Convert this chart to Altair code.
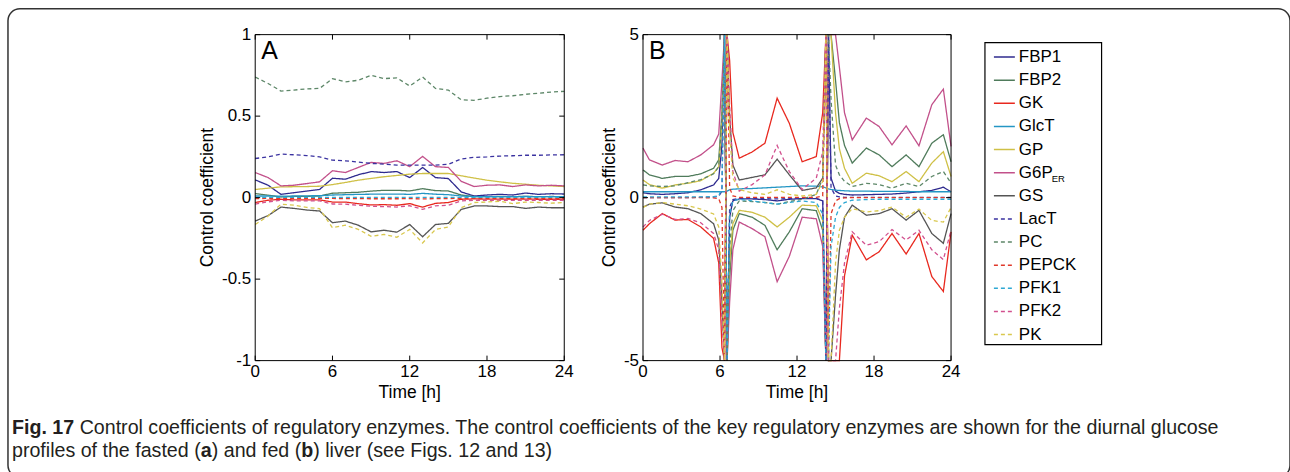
import altair as alt
import pandas as pd

# ---------------- data ----------------
SERIES = ["FBP1", "FBP2", "GK", "GlcT", "GP", "G6P_ER", "GS",
          "LacT", "PC", "PEPCK", "PFK1", "PFK2", "PK"]
COLORS = ["#2e2a8e", "#4f7b5b", "#e8281e", "#2496c4", "#cfc046", "#c2508a", "#555555",
          "#3a32a0", "#5d8768", "#e0392a", "#2ea8d3", "#d2508e", "#d9c84e"]
DASHES = [[1, 0], [1, 0], [1, 0], [1, 0], [1, 0], [1, 0], [1, 0],
          [4, 3], [4, 3], [4, 3], [4, 3], [4, 3], [4, 3]]

# Panel A (fasted), hourly
tA = [0, 1, 2, 3, 4, 5, 6, 7, 8, 9, 10, 11, 12, 13, 14, 15, 16, 17, 18, 19, 20, 21, 22, 23, 24]
A_FBP1 = [0.109, 0.076, 0.020, 0.030, 0.040, 0.050, 0.119, 0.113, 0.140, 0.160, 0.154, 0.160, 0.123,
          0.185, 0.123, 0.117, 0.035, 0.010, 0.016, 0.020, 0.016, 0.028, 0.020, 0.024, 0.022]
A_FBP2 = [0.025, 0.015, 0.004, 0.008, 0.008, 0.010, 0.027, 0.030, 0.033, 0.040, 0.045, 0.045, 0.041,
          0.055, 0.043, 0.041, 0.016, 0.006, 0.006, 0.007, 0.006, 0.008, 0.006, 0.007, 0.006]
A_GK = [-0.030, -0.016, -0.010, -0.014, -0.014, -0.014, -0.027, -0.027, -0.037, -0.045, -0.043, -0.047, -0.037,
        -0.058, -0.035, -0.030, -0.010, -0.008, -0.009, -0.009, -0.010, -0.009, -0.010, -0.010, -0.010]
A_GlcT = [0.010, 0.010, 0.009, 0.010, 0.011, 0.012, 0.016, 0.018, 0.020, 0.021, 0.021, 0.022, 0.020,
          0.026, 0.021, 0.018, 0.010, 0.006, 0.006, 0.006, 0.006, 0.007, 0.006, 0.006, 0.006]
A_GP = [0.050, 0.058, 0.066, 0.067, 0.068, 0.070, 0.080, 0.093, 0.107, 0.118, 0.128, 0.136, 0.144,
        0.148, 0.148, 0.148, 0.134, 0.120, 0.107, 0.097, 0.088, 0.082, 0.076, 0.072, 0.068]
A_G6P = [0.154, 0.123, 0.072, 0.076, 0.086, 0.097, 0.165, 0.154, 0.185, 0.216, 0.210, 0.226, 0.190,
         0.253, 0.190, 0.185, 0.100, 0.068, 0.076, 0.078, 0.068, 0.078, 0.072, 0.076, 0.072]
A_GS = [-0.144, -0.110, -0.058, -0.066, -0.076, -0.082, -0.154, -0.144, -0.169, -0.210, -0.200, -0.212, -0.165,
        -0.240, -0.165, -0.158, -0.072, -0.051, -0.051, -0.055, -0.055, -0.066, -0.058, -0.062, -0.062]
A_LacT = [0.240, 0.250, 0.267, 0.263, 0.258, 0.250, 0.230, 0.226, 0.218, 0.210, 0.206, 0.200, 0.200,
          0.200, 0.200, 0.205, 0.237, 0.247, 0.250, 0.255, 0.257, 0.260, 0.260, 0.262, 0.263]
A_PC = [0.740, 0.700, 0.654, 0.660, 0.667, 0.670, 0.730, 0.710, 0.720, 0.750, 0.730, 0.735, 0.685,
        0.740, 0.670, 0.660, 0.600, 0.597, 0.610, 0.620, 0.625, 0.634, 0.640, 0.648, 0.652]
A_PEPCK = [-0.006, -0.005, -0.004, -0.004, -0.004, -0.004, -0.005, -0.006, -0.006, -0.007, -0.007, -0.007, -0.006,
           -0.008, -0.006, -0.006, -0.004, -0.004, -0.004, -0.004, -0.004, -0.004, -0.004, -0.004, -0.004]
A_PFK1 = [0.002, 0.002, 0.002, 0.002, 0.002, 0.002, 0.002, 0.002, 0.002, 0.002, 0.002, 0.002, 0.002,
          0.002, 0.002, 0.002, 0.002, 0.002, 0.002, 0.002, 0.002, 0.002, 0.002, 0.002, 0.002]
A_PFK2 = [-0.040, -0.026, -0.016, -0.020, -0.020, -0.020, -0.039, -0.040, -0.047, -0.053, -0.055, -0.058, -0.050,
          -0.072, -0.050, -0.047, -0.020, -0.016, -0.016, -0.016, -0.017, -0.016, -0.016, -0.016, -0.016]
A_PK = [-0.165, -0.113, -0.040, -0.046, -0.060, -0.068, -0.185, -0.169, -0.195, -0.237, -0.226, -0.243, -0.195,
        -0.278, -0.195, -0.180, -0.062, -0.030, -0.027, -0.022, -0.037, -0.027, -0.030, -0.034, -0.030]

# Panel B (fed); values beyond +-5 run off the axes (clamped at the frame)
tB = [0, 0.5, 1.5, 2.5, 3.5, 4.5, 5.5, 5.9, 6.15, 6.35,
      6.55, 6.75, 7.0, 7.5, 8.5, 9.5, 10.45, 11.4, 12.4, 13.5, 14.0, 14.25,
      14.45, 14.65, 15.0, 15.3, 15.7, 16.3, 17.4, 18.4, 19.4, 20.5, 21.5, 22.5, 23.4, 24]
B_FBP1 = [0.15, 0.12, 0.10, 0.12, 0.15, 0.24, 0.39, 0.59, 1.6, 9,
          -9, -0.6, -0.1, -0.04, -0.04, -0.06, -0.10, -0.05, -0.03, -0.03, -0.1, -9,
          9, 0.6, 0.2, 0.13, 0.10, 0.08, 0.09, 0.10, 0.11, 0.14, 0.18, 0.22, 0.32, 0.18]
B_FBP2 = [0.85, 0.70, 0.59, 0.65, 0.65, 0.73, 0.90, 1.16, 2.6, 9,
          -9, -2.5, -1.0, -0.49, -0.60, -0.85, -1.60, -1.05, -0.34, -0.40, -1.0, -9,
          9, 9, 3.6, 2.3, 1.6, 1.06, 1.52, 1.31, 0.95, 1.31, 0.95, 1.67, 1.93, 1.10]
B_GK = [-1.00, -0.80, -0.49, -0.69, -0.67, -0.90, -1.25, -2.0, -4.6, -9,
        9, 4.2, 2.0, 1.21, 1.40, 1.67, 3.05, 2.28, 1.10, 1.26, 2.6, 9,
        -9, -9, -9, -5.0, -2.4, -1.15, -1.91, -1.66, -1.10, -1.73, -1.10, -2.42, -2.88, -1.05]
B_GlcT = [0.18, 0.18, 0.18, 0.18, 0.18, 0.18, 0.18, 0.18, 0.18, 0.18,
          0.20, 0.24, 0.26, 0.27, 0.28, 0.30, 0.32, 0.34, 0.36, 0.35, 0.33, 0.30,
          0.27, 0.25, 0.23, 0.22, 0.21, 0.20, 0.20, 0.19, 0.19, 0.19, 0.18, 0.18, 0.18, 0.18]
B_GP = [0.54, 0.40, 0.29, 0.39, 0.44, 0.52, 0.75, 0.95, 2.3, 9,
        -9, -2.0, -0.8, -0.39, -0.45, -0.60, -0.90, -0.60, -0.23, -0.25, -0.7, -9,
        9, 9, 2.6, 1.5, 0.9, 0.44, 0.75, 0.67, 0.49, 0.80, 0.49, 1.06, 1.41, 0.65]
B_G6P = [1.52, 1.16, 1.00, 1.14, 1.10, 1.31, 1.62, 1.95, 3.6, 9,
         -9, -3.2, -1.6, -0.75, -0.95, -1.2, -2.58, -1.8, -0.6, -0.65, -1.5, -9,
         9, 9, 5.6, 4.0, 2.6, 1.77, 2.44, 2.18, 1.62, 2.20, 1.59, 2.85, 3.33, 1.57]
B_GS = [-0.29, -0.20, -0.16, -0.29, -0.34, -0.49, -0.80, -1.30, -3.2, -9,
        9, 2.5, 1.0, 0.54, 0.62, 0.70, 1.18, 0.70, 0.22, 0.30, 0.6, 9,
        -9, -9, -3.0, -1.6, -0.6, -0.23, -0.54, -0.49, -0.34, -0.69, -0.39, -1.10, -1.40, -0.49]
B_LacT = [0.00, 0.00, 0.00, 0.00, 0.00, 0.01, 0.02, 0.04, 0.2, 9,
          -9, -0.3, -0.06, -0.02, -0.02, -0.03, -0.04, -0.03, -0.02, -0.02, -0.1, -9,
          9, 0.3, 0.05, 0.02, 0.01, 0.01, 0.01, 0.01, 0.01, 0.01, 0.01, 0.01, 0.01, 0.01]
B_PC = [0.39, 0.36, 0.34, 0.36, 0.46, 0.55, 0.73, 0.95, 2.5, 9,
        -9, -1.5, -0.4, -0.10, -0.12, -0.15, -0.20, -0.12, -0.05, 0.10, 0.6, 9,
        9, 3.0, 1.0, 0.7, 0.5, 0.34, 0.44, 0.40, 0.29, 0.44, 0.34, 0.65, 0.80, 0.45]
B_PEPCK = [0.00, 0.00, 0.00, 0.00, 0.00, 0.00, -0.01, -0.03, -0.3, -9,
           9, 0.3, 0.05, 0.01, 0.01, 0.01, 0.01, 0.01, 0.01, 0.01, 0.05, 9,
           -9, -0.5, -0.1, -0.03, -0.01, 0.00, 0.00, 0.00, 0.00, 0.00, 0.00, 0.00, 0.00, 0.00]
B_PFK1 = [0.02, 0.02, 0.02, 0.02, 0.02, 0.02, 0.03, 0.05, 0.3, 9,
          -9, -0.5, -0.1, -0.05, -0.10, -0.15, -0.20, -0.15, -0.10, -0.15, -0.5, -9,
          -9, -1.5, -0.6, -0.3, -0.15, -0.08, -0.06, -0.05, -0.05, -0.05, -0.05, -0.05, -0.05, -0.05]
B_PFK2 = [-0.90, -0.70, -0.51, -0.67, -0.64, -0.77, -1.10, -1.60, -3.8, -9,
          9, 2.8, 0.8, 0.20, 0.40, 0.70, 1.60, 0.80, 0.25, 0.60, 1.4, 9,
          -9, -9, -6.0, -3.4, -2.0, -1.05, -1.46, -1.35, -0.98, -1.30, -1.00, -1.60, -1.90, -1.00]
B_PK = [-0.30, -0.20, -0.15, -0.20, -0.25, -0.35, -0.50, -0.90, -2.6, -9,
        9, 2.0, 0.6, 0.25, 0.15, 0.10, 0.24, 0.10, 0.05, 0.10, 0.5, 9,
        -9, -8, -2.0, -1.0, -0.6, -0.34, -0.44, -0.40, -0.29, -0.60, -0.35, -0.70, -0.75, -0.30]

A_TABLE = {"FBP1": A_FBP1, "FBP2": A_FBP2, "GK": A_GK, "GlcT": A_GlcT, "GP": A_GP, "G6P_ER": A_G6P,
           "GS": A_GS, "LacT": A_LacT, "PC": A_PC, "PEPCK": A_PEPCK, "PFK1": A_PFK1, "PFK2": A_PFK2, "PK": A_PK}
B_TABLE = {"FBP1": B_FBP1, "FBP2": B_FBP2, "GK": B_GK, "GlcT": B_GlcT, "GP": B_GP, "G6P_ER": B_G6P,
           "GS": B_GS, "LacT": B_LacT, "PC": B_PC, "PEPCK": B_PEPCK, "PFK1": B_PFK1, "PFK2": B_PFK2, "PK": B_PK}

XTICKS = [0, 6, 12, 18, 24]
XTICK_LABELS = ["0", "6", "12", "18", "24"]
YTICKS_A = [-1, -0.5, 0, 0.5, 1]
YTICK_LABELS_A = ["-1", "-0.5", "0", "0.5", "1"]
YTICKS_B = [-5, 0, 5]
YTICK_LABELS_B = ["-5", "0", "5"]


def to_long(times, table):
    rows = []
    for name in SERIES:
        vals = table[name]
        assert len(vals) == len(times), name
        for t, v in zip(times, vals):
            rows.append({"series": name, "t": t, "v": v})
    return pd.DataFrame(rows)


dfA = to_long(tA, A_TABLE)
dfB = to_long(tB, B_TABLE)

# ---------------- layout ----------------
FONT = "Liberation Sans"
VIEW_W, VIEW_H = 1286, 470      # view = outer rounded frame
PAD = 8
TICK_FS = 17
TITLE_FS = 17.5

LEGEND = alt.Legend(orient="none", legendX=988, legendY=37, title=None,
                    labelFont=FONT, labelFontSize=17, labelColor="black",
                    symbolType="stroke", symbolSize=441, symbolStrokeWidth=1.5,
                    rowPadding=3.2, labelOffset=3, padding=0, labelLimit=200,
                    labelExpr="datum.label == 'G6P_ER' ? 'G6P' : datum.label")

one = pd.DataFrame({"k": [0]})


def make_panel(df, xr, yr, ydom, yticks, ylabels, letter, clamp, ytitle_x):
    xs = alt.Scale(domain=[0, 24], range=xr, nice=False, zero=False)
    ys = alt.Scale(domain=ydom, range=yr, nice=False, zero=False, clamp=clamp)
    color = alt.Color("series:N", scale=alt.Scale(domain=SERIES, range=COLORS), legend=LEGEND)
    dash = alt.StrokeDash("series:N", scale=alt.Scale(domain=SERIES, range=DASHES), legend=LEGEND)
    lines = alt.Chart(df).mark_line(strokeWidth=1.3).encode(
        x=alt.X("t:Q", scale=xs, axis=None),
        y=alt.Y("v:Q", scale=ys, axis=None),
        color=color, strokeDash=dash)
    box = alt.Chart(one).mark_rect(fill="transparent", stroke="black", strokeWidth=1).encode(
        x=alt.XDatum(0, axis=None), x2=alt.X2Datum(24),
        y=alt.YDatum(ydom[0], axis=None), y2=alt.Y2Datum(ydom[1]))
    xt = pd.DataFrame({"xt": XTICKS, "xl": XTICK_LABELS})
    yt = pd.DataFrame({"yt": yticks, "yl": ylabels})
    tick_b = alt.Chart(xt).mark_rule(color="black", y2Offset=-5).encode(
        x=alt.X("xt:Q", axis=None), y=alt.YDatum(ydom[0], axis=None), y2=alt.Y2Datum(ydom[0]))
    tick_t = alt.Chart(xt).mark_rule(color="black", y2Offset=5).encode(
        x=alt.X("xt:Q", axis=None), y=alt.YDatum(ydom[1], axis=None), y2=alt.Y2Datum(ydom[1]))
    tick_l = alt.Chart(yt).mark_rule(color="black", x2Offset=5).encode(
        y=alt.Y("yt:Q", axis=None), x=alt.XDatum(0, axis=None), x2=alt.X2Datum(0))
    tick_r = alt.Chart(yt).mark_rule(color="black", x2Offset=-5).encode(
        y=alt.Y("yt:Q", axis=None), x=alt.XDatum(24, axis=None), x2=alt.X2Datum(24))
    xlab = alt.Chart(xt).mark_text(baseline="top", align="center", dy=3, fontSize=TICK_FS,
                                   font=FONT, color="black").encode(
        x=alt.X("xt:Q", axis=None), y=alt.YDatum(ydom[0], axis=None), text="xl:N")
    ylab = alt.Chart(yt).mark_text(baseline="middle", align="right", dx=-4, fontSize=TICK_FS,
                                   font=FONT, color="black").encode(
        y=alt.Y("yt:Q", axis=None), x=alt.XDatum(0, axis=None), text="yl:N")
    xtitle = alt.Chart(one).mark_text(text="Time [h]", baseline="top", align="center", dy=23,
                                      fontSize=TITLE_FS, font=FONT, color="black").encode(
        x=alt.XDatum(12, axis=None), y=alt.YDatum(ydom[0], axis=None))
    ytitle = alt.Chart(one).mark_text(text="Control coefficient", angle=270, baseline="middle",
                                      align="center", fontSize=TITLE_FS, font=FONT,
                                      color="black").encode(
        x=alt.value(ytitle_x), y=alt.YDatum(0, axis=None))
    lab = alt.Chart(one).mark_text(text=letter, align="left", baseline="top", dx=6, dy=4,
                                   fontSize=25, font=FONT, color="black").encode(
        x=alt.XDatum(0, axis=None), y=alt.YDatum(ydom[1], axis=None))
    return alt.layer(lines, box, tick_b, tick_t, tick_l, tick_r, xlab, ylab, xtitle, ytitle, lab)


panelA = make_panel(dfA, [248, 558], [353, 26], [-1, 1], YTICKS_A, YTICK_LABELS_A, "A", False, 201)
panelB = make_panel(dfB, [637, 946], [353, 26], [-5, 5], YTICKS_B, YTICK_LABELS_B, "B", True, 603.5)

# legend frame and subscript
legend_box = alt.Chart(one).mark_rect(fill="transparent", stroke="black", strokeWidth=1.2).encode(
    x=alt.value(980), x2=alt.value(1097), y=alt.value(34), y2=alt.value(337))
er = alt.Chart(one).mark_text(text="ER", fontSize=9.5, font=FONT, color="black",
                              align="left", baseline="alphabetic").encode(
    x=alt.value(1047), y=alt.value(174))

# caption
CAP = 19.7
CAPC = "#231f20"


def cap(text, x, y, bold=False):
    return alt.Chart(one).mark_text(text=text, font=FONT, fontSize=CAP, color=CAPC,
                                    fontWeight="bold" if bold else "normal",
                                    align="left", baseline="alphabetic").encode(
        x=alt.value(x), y=alt.value(y))


L1, L2 = 427, 450
caption = [
    cap("Fig. 17", 4, L1, True),
    cap("Control coefficients of regulatory enzymes. The control coefficients of the key regulatory "
        "enzymes are shown for the diurnal glucose", 71.9, L1),
    cap("profiles of the fasted (", 4, L2),
    cap("a", 193.4, L2, True),
    cap(") and fed (", 204.4, L2),
    cap("b", 294.2, L2, True),
    cap(") liver (see Figs. 12 and 13)", 306.2, L2),
]

chart = alt.layer(panelA, panelB, legend_box, er, *caption).resolve_scale(
    x="independent", y="independent"
).properties(
    width=VIEW_W, height=VIEW_H, autosize="none",
    padding={"left": PAD, "top": PAD, "right": 0, "bottom": 0}
).configure_view(
    stroke="#333333", strokeWidth=1.5, cornerRadius=12
)

chart.save("out.html", embed_options={"renderer": "svg", "actions": False})
